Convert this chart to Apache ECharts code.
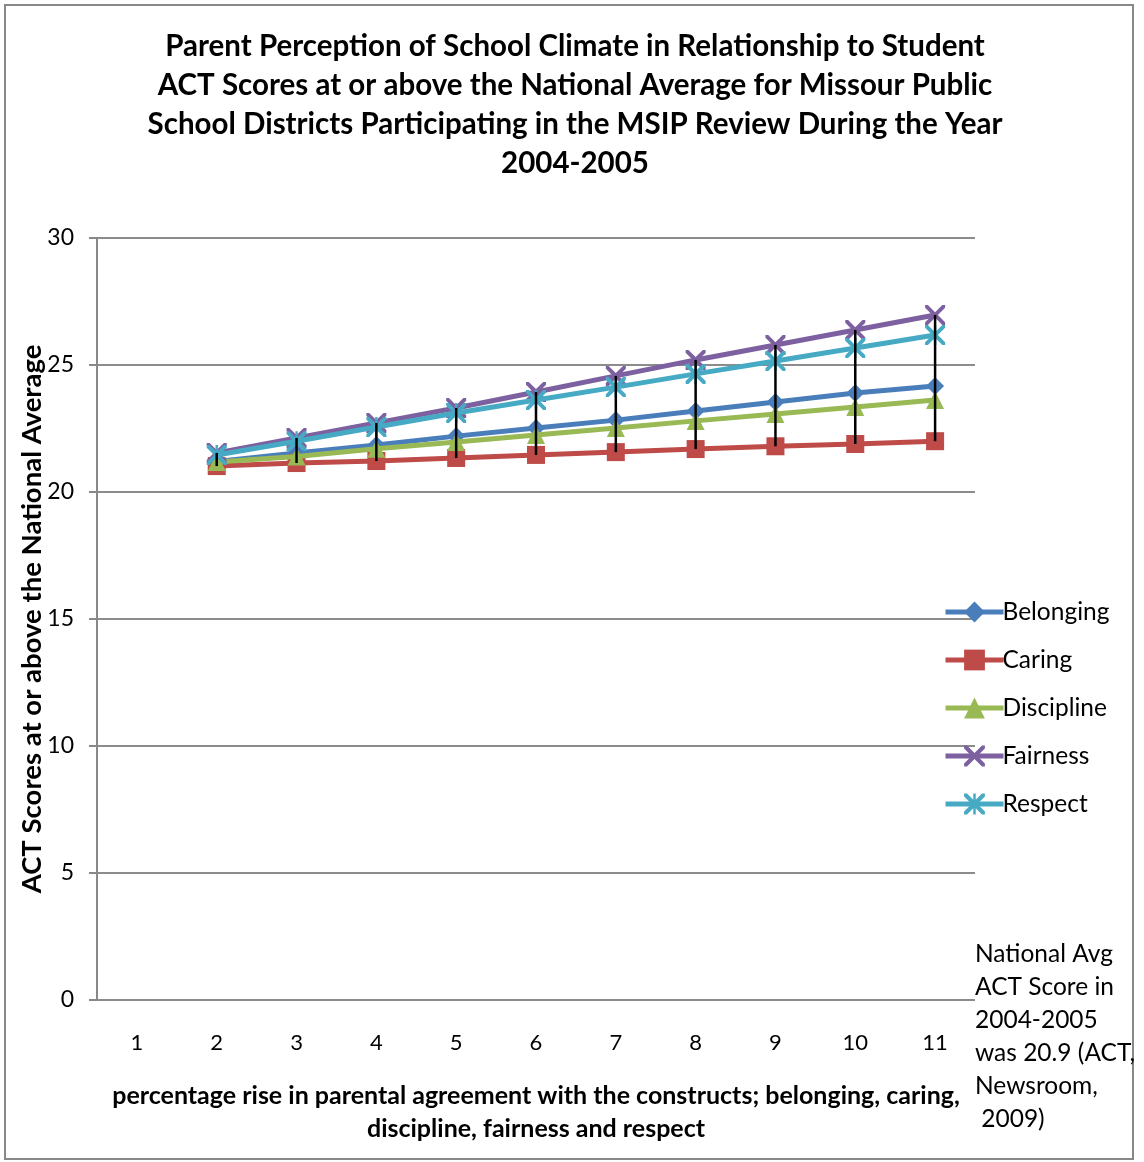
<!DOCTYPE html>
<html><head><meta charset="utf-8">
<script src="https://cdn.jsdelivr.net/npm/echarts@6/dist/echarts.min.js"></script>
<style>html,body{margin:0;padding:0;background:#fff}#c{width:1144px;height:1162px}</style>
</head><body><div id="c"></div>
<script>
const categories = ['1','2','3','4','5','6','7','8','9','10','11'];
const belonging  = [null,21.2,21.54,21.85,22.2,22.52,22.83,23.19,23.54,23.9,24.17];
const caring     = [null,21.02,21.14,21.22,21.34,21.46,21.57,21.69,21.8,21.89,22.0];
const discipline = [null,21.18,21.4,21.7,21.97,22.24,22.52,22.8,23.07,23.35,23.62];
const fairness   = [null,21.54,22.13,22.72,23.31,23.94,24.57,25.2,25.79,26.38,26.97];
const respect    = [null,21.46,22.0,22.56,23.11,23.62,24.13,24.65,25.16,25.67,26.18];
const seriesNames = ['Belonging','Caring','Discipline','Fairness','Respect'];
const titleText = 'Parent Perception of School Climate in Relationship to Student\nACT Scores at or above the National Average for Missour Public\nSchool Districts Participating in the MSIP Review During the Year\n2004-2005';
const yAxisName = 'ACT Scores at or above the National Average';
const xAxisName = 'percentage rise in parental agreement with the constructs; belonging, caring,\ndiscipline, fairness and respect';
const noteText = 'National Avg\nACT Score in\n2004-2005\nwas 20.9 (ACT,\nNewsroom,\n 2009)';

const all = [belonging, caring, discipline, fairness, respect];
const hiLo = categories.map((c,i)=>{
  const v = all.map(a=>a[i]).filter(x=>x!=null);
  return v.length ? [i, Math.min(...v), Math.max(...v)] : null;
}).filter(Boolean);

const FONT = 'Lato, "Open Sans", sans-serif';
const xPath = 'path://M0,0 L1.4,0 L5,3.6 L8.6,0 L10,0 L10,1.4 L6.4,5 L10,8.6 L10,10 L8.6,10 L5,6.4 L1.4,10 L0,10 L0,8.6 L3.6,5 L0,1.4 Z';
const starPath = 'path://M0,0 L1.4,0 L5,3.6 L8.6,0 L10,0 L10,1.4 L6.4,5 L10,8.6 L10,10 L8.6,10 L5,6.4 L1.4,10 L0,10 L0,8.6 L3.6,5 L0,1.4 Z M4.4,0 L5.6,0 L5.6,10 L4.4,10 Z';
const colors = ['#4A7EBB','#BE4B48','#98B954','#7D60A0','#46AAC5'];
const symbols = ['diamond','rect','triangle',xPath,starPath];
const sizes = [18,18,18,20,20];

const chart = echarts.init(document.getElementById('c'));
chart.setOption({
  animation:false,
  title:{text:titleText,left:570,top:22,textAlign:'center',
    textStyle:{fontFamily:FONT,fontWeight:'bold',fontSize:29.5,lineHeight:39,color:'#000'}},
  grid:{left:97,right:169,top:238,bottom:162},
  legend:{orient:'vertical',left:938,top:594,itemWidth:58,itemHeight:26,itemGap:22,
    data:seriesNames,
    lineStyle:{width:5},
    textStyle:{fontFamily:FONT,fontSize:24.5,color:'#000',lineHeight:26,padding:[0,0,0,-6]}},
  xAxis:{type:'category',data:categories,boundaryGap:true,
    name:xAxisName,nameLocation:'middle',nameGap:79,
    nameTextStyle:{fontFamily:FONT,fontWeight:'bold',fontSize:25,lineHeight:33,color:'#000'},
    axisLine:{show:false},axisTick:{show:false},
    axisLabel:{fontFamily:FONT,fontSize:22,color:'#000',margin:32}},
  yAxis:{type:'value',min:0,max:30,interval:5,
    name:yAxisName,nameLocation:'middle',nameGap:51,nameRotate:90,nameMoveOverlap:false,
    nameTextStyle:{fontFamily:FONT,fontWeight:'bold',fontSize:27.5,color:'#000'},
    axisLine:{show:true,lineStyle:{color:'#888',width:2}},
    axisTick:{show:true,length:8,lineStyle:{color:'#888',width:2}},
    splitLine:{lineStyle:{color:'#8c8c8c',width:2}},
    axisLabel:{fontFamily:FONT,fontSize:23,color:'#000',margin:23}},
  graphic:[
    {type:'rect',shape:{x:5,y:5,width:1128,height:1154},style:{fill:'none',stroke:'#888',lineWidth:2},silent:true},
    {type:'text',left:975,top:938,style:{text:noteText,fontFamily:FONT,fontSize:24.5,lineHeight:33,fill:'#000'}}
  ],
  series: seriesNames.map((n,k)=>({
    name:n,type:'line',data:all[k],symbol:symbols[k],symbolSize:sizes[k],
    lineStyle:{color:colors[k],width:5},itemStyle:{color:colors[k]},z:2+k
  })).concat([{
    type:'custom',data:hiLo,z:20,silent:true,
    renderItem:(params,api)=>{
      const p1 = api.coord([api.value(0),api.value(1)]);
      const p2 = api.coord([api.value(0),api.value(2)]);
      return {type:'line',shape:{x1:p1[0],y1:p1[1],x2:p2[0],y2:p2[1]},style:{stroke:'#000',lineWidth:2.5}};
    }
  }])
});
</script></body></html>
